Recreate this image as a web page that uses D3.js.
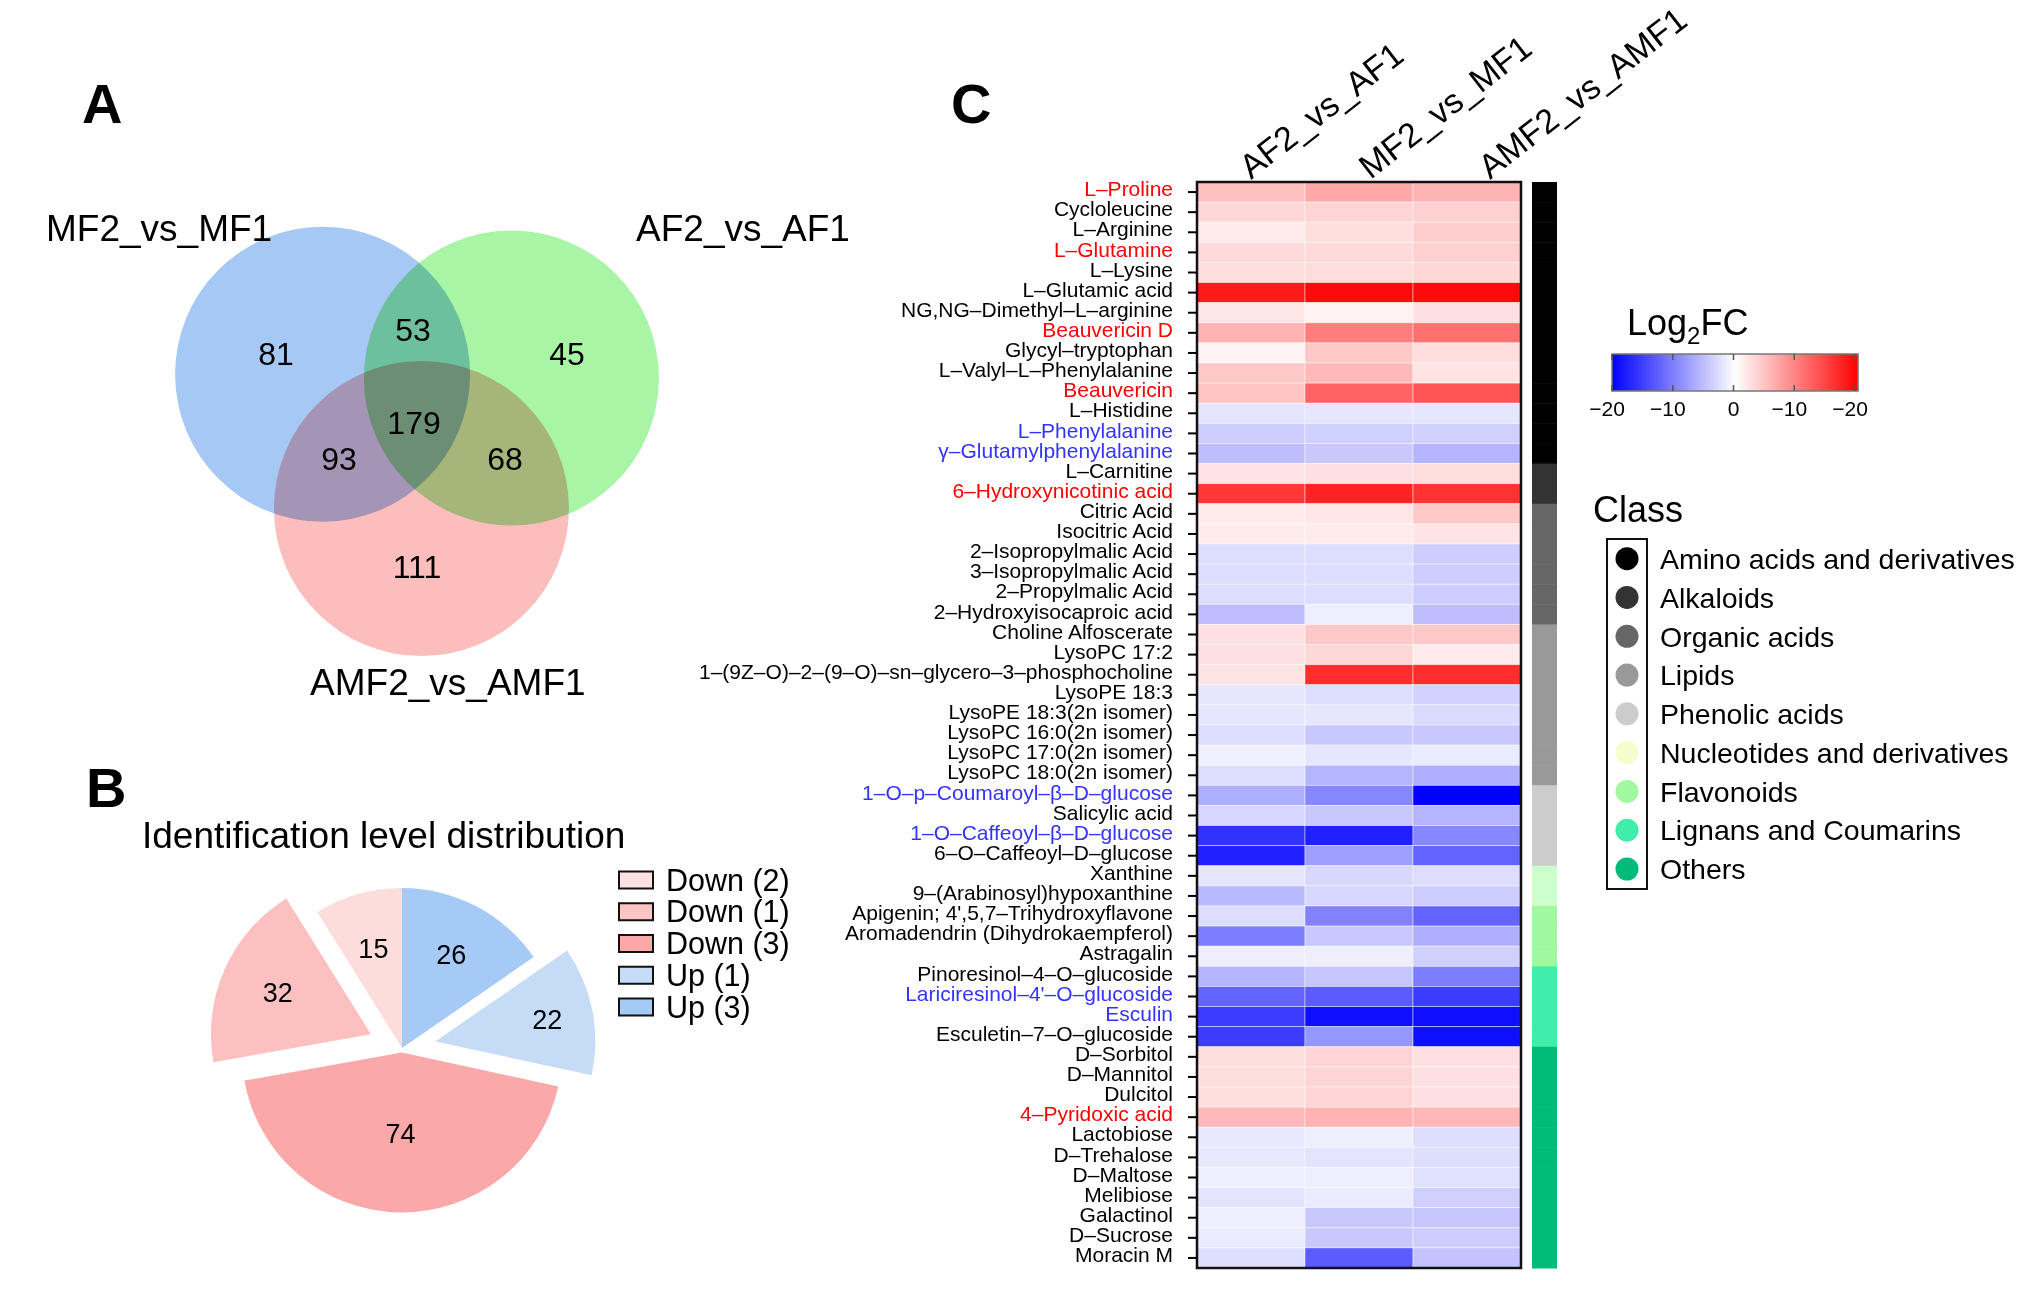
<!DOCTYPE html>
<html>
<head>
<meta charset="utf-8">
<script src="https://cdn.jsdelivr.net/npm/d3@7"></script>
<style>
  body { margin: 0; background: #fff; }
  svg { display: block; }
  text { font-family: "Liberation Sans", Arial, Helvetica, sans-serif; }
</style>
</head>
<body>
<svg id="chart" width="2020" height="1299"></svg>
<script>
// ---------------- DATA ----------------
// Panel A: Venn
const vennSetNames = ["MF2_vs_MF1", "AF2_vs_AF1", "AMF2_vs_AMF1"];
const vennRegions = ["MF only", "MF∩AF", "AF only", "MF∩AF∩AMF", "MF∩AMF", "AF∩AMF", "AMF only"];
const vennCounts = [81, 53, 45, 179, 93, 68, 111];

// Panel B: pie (clockwise from 12 o'clock)
const pieCategories = ["Up (3)", "Up (1)", "Down (3)", "Down (1)", "Down (2)"];
const pieValues = [26, 22, 74, 32, 15];
const pieTitle = "Identification level distribution";
const pieLegendOrder = ["Down (2)", "Down (1)", "Down (3)", "Up (1)", "Up (3)"];

// Panel C: heatmap
const hmColumns = ["AF2_vs_AF1", "MF2_vs_MF1", "AMF2_vs_AMF1"];
const metabolites = [
  "L–Proline", "Cycloleucine", "L–Arginine", "L–Glutamine", "L–Lysine", "L–Glutamic acid",
  "NG,NG–Dimethyl–L–arginine", "Beauvericin D", "Glycyl–tryptophan", "L–Valyl–L–Phenylalanine",
  "Beauvericin", "L–Histidine", "L–Phenylalanine", "γ–Glutamylphenylalanine", "L–Carnitine",
  "6–Hydroxynicotinic acid", "Citric Acid", "Isocitric Acid", "2–Isopropylmalic Acid",
  "3–Isopropylmalic Acid", "2–Propylmalic Acid", "2–Hydroxyisocaproic acid", "Choline Alfoscerate",
  "LysoPC 17:2", "1–(9Z–O)–2–(9–O)–sn–glycero–3–phosphocholine", "LysoPE 18:3",
  "LysoPE 18:3(2n isomer)", "LysoPC 16:0(2n isomer)", "LysoPC 17:0(2n isomer)", "LysoPC 18:0(2n isomer)",
  "1–O–p–Coumaroyl–β–D–glucose", "Salicylic acid", "1–O–Caffeoyl–β–D–glucose", "6–O–Caffeoyl–D–glucose",
  "Xanthine", "9–(Arabinosyl)hypoxanthine", "Apigenin; 4',5,7–Trihydroxyflavone",
  "Aromadendrin (Dihydrokaempferol)", "Astragalin", "Pinoresinol–4–O–glucoside",
  "Lariciresinol–4'–O–glucoside", "Esculin", "Esculetin–7–O–glucoside", "D–Sorbitol", "D–Mannitol",
  "Dulcitol", "4–Pyridoxic acid", "Lactobiose", "D–Trehalose", "D–Maltose", "Melibiose",
  "Galactinol", "D–Sucrose", "Moracin M"
];
// "up" = red label, "down" = blue label, "" = black label
const labelHighlight = [
  "up", "", "", "up", "", "", "", "up", "", "", "up", "", "down", "down", "", "up", "", "", "", "", "", "",
  "", "", "", "", "", "", "", "", "down", "", "down", "", "", "", "", "", "", "", "down", "down", "",
  "", "", "", "up", "", "", "", "", "", "", ""
];
const valuesAF = [5.0, 3.1, 1.6, 2.9, 2.7, 18.0, 2.0, 5.9, 1.0, 4.3, 4.7, -2.1, -3.9, -5.1, 2.1, 15.7, 1.6, 1.6,
  -2.7, -2.7, -2.7, -5.1, 2.4, 2.4, 2.1, -2.0, -2.0, -2.7, -1.2, -2.6, -6.3, -3.1, -16.1, -17.6, -2.0, -5.5,
  -2.7, -10.2, -1.3, -5.9, -12.2, -15.3, -15.3, 2.6, 2.6, 2.6, 5.5, -1.8, -1.8, -1.3, -2.1, -1.3, -1.6, -2.6];
const valuesMF = [6.8, 3.4, 2.6, 2.9, 2.7, 19.2, 1.0, 10.2, 4.3, 5.5, 12.2, -2.0, -3.7, -4.3, 2.4, 17.3, 2.0, 1.6,
  -2.7, -2.7, -2.7, -1.3, 4.3, 3.1, 16.5, -2.7, -2.0, -4.3, -2.0, -5.9, -9.4, -4.3, -17.6, -7.5, -3.1, -3.1,
  -9.8, -4.3, -1.3, -4.5, -12.9, -18.8, -8.2, 3.4, 3.4, 3.4, 6.0, -1.3, -2.1, -1.3, -1.6, -4.3, -4.3, -12.9];
const valuesAMF = [5.9, 3.7, 3.9, 3.7, 3.1, 19.2, 2.4, 11.2, 2.7, 2.1, 13.3, -2.0, -3.7, -5.9, 2.7, 16.1, 4.3, 2.1,
  -3.9, -3.9, -3.9, -5.1, 4.3, 1.6, 16.5, -3.5, -2.9, -4.3, -1.6, -6.3, -20.0, -5.9, -9.4, -12.2, -2.7, -3.9,
  -12.2, -6.3, -3.7, -10.2, -15.3, -18.8, -18.8, 2.4, 2.4, 2.4, 5.6, -2.6, -2.6, -2.4, -3.7, -4.5, -3.9, -4.7];
const classNames = ["Amino acids and derivatives", "Alkaloids", "Organic acids", "Lipids", "Phenolic acids",
  "Nucleotides and derivatives", "Flavonoids", "Lignans and Coumarins", "Others"];
const classSizes = [14, 2, 6, 8, 4, 2, 3, 4, 11];
const legendTicks = [-20, -10, 0, 10, 20];
const legendTickLabels = ["−20", "−10", "0", "−10", "−20"];

// ---------------- STYLE / LAYOUT ----------------
const FONT = '"Liberation Sans", Arial, Helvetica, sans-serif';
const vennColors = ["#a6c8f5", "#a8f5a5", "#fcbdbd"];
// circle centres & label anchors in radius units around the Venn centre
const vennCircleUnits = [[-0.64, -0.31], [0.64, -0.285], [0.03, 0.6]];
const vennRegionUnits = [[-0.956, -0.454], [-0.027, -0.617], [1.017, -0.454], [-0.02, 0.014],
  [-0.529, 0.264], [0.597, 0.264], [0, 0.99]];
const vennNameUnits = [[-2.515, -1.214], [1.485, -1.214], [-0.725, 1.864]];
const pieColors = {"Up (3)": "#a6caf6", "Up (1)": "#c6dcf6", "Down (3)": "#fba8a8", "Down (1)": "#fcc0c0", "Down (2)": "#fddcdc"};
const pieLegendColors = {"Down (2)": "#fde0e0", "Down (1)": "#fcc4c4", "Down (3)": "#fba8a8", "Up (1)": "#c6dcf6", "Up (3)": "#a6caf6"};
const pieExplode = {"Up (3)": 0, "Up (1)": 34, "Down (3)": 4.5, "Down (1)": 34, "Down (2)": 0};
const pieLabelR = {"Down (3)": 81, "Down (1)": 102, "Up (1)": 114, "Down (2)": 104};
const classColors = ["#000000", "#333333", "#666666", "#999999", "#cccccc", "#f6fccb", "#a0f99f", "#40eeaa", "#00bb77"];
const classBarColors = ["#000000", "#333333", "#666666", "#999999", "#cccccc", "#ccffcc", "#a0f99f", "#40eeaa", "#00bb77"];

const svg = d3.select("#chart");
svg.append("rect").attr("width", 2020).attr("height", 1299).attr("fill", "#fff");

// Panel letters
[["A", 82, 123], ["B", 86, 807], ["C", 951, 123]].forEach(([t, x, y]) => {
  svg.append("text").attr("x", x).attr("y", y).text(t)
    .attr("font-size", 56).attr("font-weight", "bold").attr("fill", "#000");
});

// ---------------- PANEL A: VENN ----------------
{
  const R = 147.5, cx = 417, cy = 420;
  const ux = d3.scaleLinear().domain([-1, 1]).range([cx - R, cx + R]);
  const uy = d3.scaleLinear().domain([-1, 1]).range([cy - R, cy + R]);
  const g = svg.append("g").style("isolation", "isolate");
  g.selectAll("circle").data(vennSetNames).join("circle")
    .attr("cx", (d, i) => ux(vennCircleUnits[i][0]))
    .attr("cy", (d, i) => uy(vennCircleUnits[i][1]))
    .attr("r", ux(1) - ux(0))
    .attr("fill", (d, i) => vennColors[i])
    .style("mix-blend-mode", "multiply");
  svg.selectAll("text.vcount").data(vennCounts).join("text").attr("class", "vcount")
    .attr("x", (d, i) => ux(vennRegionUnits[i][0]))
    .attr("y", (d, i) => uy(vennRegionUnits[i][1]))
    .attr("text-anchor", "middle").attr("dy", "0.36em")
    .attr("font-size", 32).attr("fill", "#000").text(d => d);
  svg.selectAll("text.vname").data(vennSetNames).join("text").attr("class", "vname")
    .attr("x", (d, i) => ux(vennNameUnits[i][0]))
    .attr("y", (d, i) => uy(vennNameUnits[i][1]))
    .attr("font-size", 37).attr("fill", "#000").text(d => d);
}

// ---------------- PANEL B: PIE ----------------
{
  const pcx = 402, pcy = 1048, R = 160;
  svg.append("text").attr("x", 142).attr("y", 848).attr("font-size", 37).attr("fill", "#000").text(pieTitle);
  const pie = d3.pie().sort(null).value(d => d.v).startAngle(0).endAngle(2 * Math.PI);
  const arcs = pie(pieCategories.map((c, i) => ({c, v: pieValues[i]})));
  const arc = d3.arc().innerRadius(0).outerRadius(R);
  const g = svg.append("g").attr("transform", `translate(${pcx},${pcy})`);
  const off = a => {
    const m = (a.startAngle + a.endAngle) / 2, e = pieExplode[a.data.c];
    return [Math.sin(m) * e, -Math.cos(m) * e];
  };
  const sg = g.selectAll("g.slice").data(arcs).join("g").attr("class", "slice")
    .attr("transform", a => `translate(${off(a)})`);
  sg.append("path").attr("d", arc).attr("fill", a => pieColors[a.data.c]);
  sg.append("text")
    .attr("transform", a => {
      const m = (a.startAngle + a.endAngle) / 2, lr = pieLabelR[a.data.c] || 106;
      return `translate(${Math.sin(m) * lr},${-Math.cos(m) * lr})`;
    })
    .attr("text-anchor", "middle").attr("dy", "0.36em").attr("font-size", 27).attr("fill", "#000")
    .text(a => a.data.v);

  // legend
  const ly = d3.scalePoint().domain(pieLegendOrder).range([880, 1007]);
  const lg = svg.append("g");
  lg.selectAll("rect").data(pieLegendOrder).join("rect")
    .attr("x", 619).attr("y", d => ly(d) - 8.5).attr("width", 34).attr("height", 17)
    .attr("fill", d => pieLegendColors[d]).attr("stroke", "#111").attr("stroke-width", 2);
  lg.selectAll("text").data(pieLegendOrder).join("text")
    .attr("x", 666).attr("y", d => ly(d) + 10.5).attr("font-size", 30.5).attr("fill", "#000").text(d => d);
}

// ---------------- PANEL C: HEATMAP ----------------
{
  const left = 1197, right = 1521, top = 182, bottom = 1268;
  const x = d3.scaleBand().domain(hmColumns).range([left, right]);
  const y = d3.scaleBand().domain(metabolites).range([top, bottom]);
  const color = d3.scaleLinear().domain([-20, 0, 20]).range(["#0000ff", "#ffffff", "#ff0000"]).clamp(true);
  const cols = [valuesAF, valuesMF, valuesAMF];
  const cells = [];
  metabolites.forEach((m, i) => hmColumns.forEach((c, j) => cells.push({m, c, v: cols[j][i]})));
  svg.append("g").selectAll("rect").data(cells).join("rect")
    .attr("x", d => x(d.c)).attr("y", d => y(d.m))
    .attr("width", x.bandwidth()).attr("height", y.bandwidth())
    .attr("fill", d => color(d.v))
    .attr("stroke", "#ffffff").attr("stroke-opacity", 0.55).attr("stroke-width", 0.8);
  svg.append("rect").attr("x", left).attr("y", top).attr("width", right - left).attr("height", bottom - top)
    .attr("fill", "none").attr("stroke", "#111").attr("stroke-width", 2.5);

  // row labels through an axis
  const axis = d3.axisLeft(y).tickSize(9).tickPadding(15);
  const ag = svg.append("g").attr("transform", `translate(${left},0)`).call(axis);
  ag.select(".domain").remove();
  ag.selectAll(".tick line").attr("stroke", "#000").attr("stroke-width", 2);
  ag.selectAll(".tick text")
    .attr("font-family", FONT).attr("font-size", 21).attr("dy", "0.2em")
    .attr("fill", (d, i) => labelHighlight[i] === "up" ? "#ff0000" : labelHighlight[i] === "down" ? "#3333ff" : "#000");

  // column labels
  const hx = d3.scalePoint().domain(hmColumns).range([1251, 1490]);
  svg.selectAll("text.colh").data(hmColumns).join("text").attr("class", "colh")
    .attr("transform", d => `translate(${hx(d)},180) rotate(-38)`)
    .attr("font-size", 34).attr("fill", "#000").text(d => d);

  // class bar
  const rowClass = [];
  classSizes.forEach((n, k) => { for (let i = 0; i < n; i++) rowClass.push(k); });
  svg.append("g").selectAll("rect").data(metabolites).join("rect")
    .attr("x", 1532).attr("width", 25)
    .attr("y", d => y(d)).attr("height", y.bandwidth() + 0.5)
    .attr("fill", (d, i) => classBarColors[rowClass[i]]);

  // Log2FC legend
  const lx = d3.scaleLinear().domain([-20, 20]).range([1612, 1855]);
  const t = svg.append("text").attr("x", 1627).attr("y", 335).attr("font-size", 36).attr("fill", "#000");
  t.append("tspan").text("Log");
  t.append("tspan").attr("font-size", 24).attr("dy", 9).text("2");
  t.append("tspan").attr("dy", -9).text("FC");
  const defs = svg.append("defs");
  const grad = defs.append("linearGradient").attr("id", "fcgrad").attr("x1", "0%").attr("x2", "100%");
  d3.range(-20, 20.01, 2).forEach(v => grad.append("stop")
    .attr("offset", ((v + 20) / 40 * 100) + "%").attr("stop-color", color(v)));
  const barEnd = lx(20.5);
  svg.append("rect").attr("x", lx(-20)).attr("y", 354).attr("width", barEnd - lx(-20)).attr("height", 37)
    .attr("fill", "url(#fcgrad)").attr("stroke", "#777").attr("stroke-width", 1.5);
  const tk = svg.append("g");
  legendTicks.forEach(v => {
    tk.append("line").attr("x1", lx(v)).attr("x2", lx(v)).attr("y1", 354).attr("y2", 360).attr("stroke", "#555").attr("stroke-width", 1.5);
    tk.append("line").attr("x1", lx(v)).attr("x2", lx(v)).attr("y1", 385).attr("y2", 391).attr("stroke", "#555").attr("stroke-width", 1.5);
  });
  svg.selectAll("text.ltick").data(legendTicks).join("text").attr("class", "ltick")
    .attr("x", d => lx(d) - (d === 0 ? 0 : 5)).attr("y", 416).attr("text-anchor", "middle")
    .attr("font-size", 21).attr("fill", "#000").text((d, i) => legendTickLabels[i]);

  // Class legend
  svg.append("text").attr("x", 1593).attr("y", 522).attr("font-size", 36).attr("fill", "#000").text("Class");
  const cy = d3.scalePoint().domain(classNames).range([558.7, 869]);
  svg.append("rect").attr("x", 1607).attr("y", 539).attr("width", 40).attr("height", 350)
    .attr("fill", "none").attr("stroke", "#111").attr("stroke-width", 2);
  svg.selectAll("circle.cls").data(classNames).join("circle").attr("class", "cls")
    .attr("cx", 1627).attr("cy", d => cy(d)).attr("r", 11.5)
    .attr("fill", (d, i) => classColors[i]);
  svg.selectAll("text.cls").data(classNames).join("text").attr("class", "cls")
    .attr("x", 1660).attr("y", d => cy(d)).attr("dy", "0.36em")
    .attr("font-size", 28.5).attr("fill", "#000").text(d => d);
}
</script>
</body>
</html>
